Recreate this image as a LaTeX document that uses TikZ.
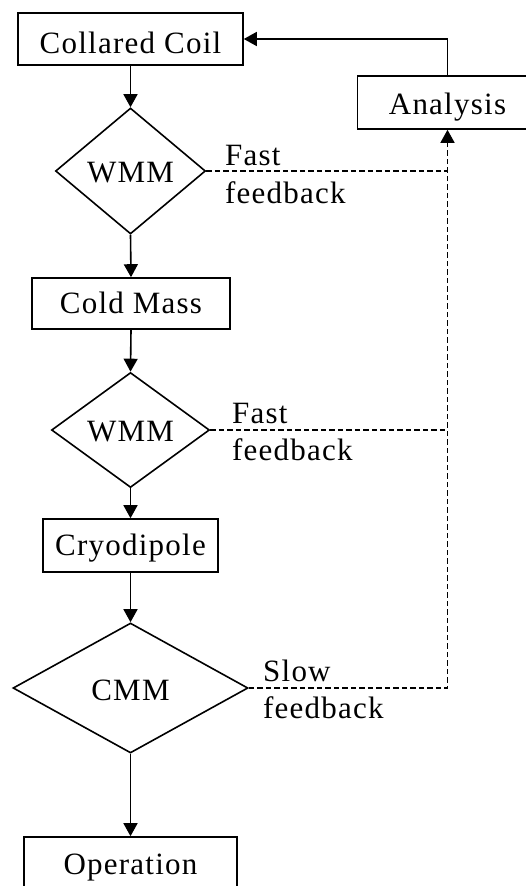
\documentclass[tikz,border=0pt]{standalone}
\usepackage{fontspec}
\setmainfont{Liberation Serif}[LetterSpace=4]
\usetikzlibrary{shapes.geometric,arrows.meta}

\tikzset{
  stagebox/.style={draw, line width=1.6pt, rectangle, inner sep=0pt,
    text height=22pt, text depth=0pt, align=center},
  testdiamond/.style={draw, line width=1.6pt, diamond, inner sep=0pt,
    text height=22pt, text depth=0pt},
  tip/.style={-{Triangle[length=13pt,width=14pt]}},
  flow/.style={line width=1.6pt, tip},
  feedback/.style={line width=1.5pt, dash pattern=on 5.5pt off 3pt},
  fbtext/.style={anchor=base west, inner sep=0pt}
}

\begin{document}
\begin{tikzpicture}[x=1pt, y=-1pt, font=\fontsize{31}{38}\selectfont]
  \clip (0,0) rectangle (526,886);
  \fill[white] (0,0) rectangle (526,886);

  % main chain of production stages and measurements
  \node[stagebox, minimum width=225pt, minimum height=52pt, text height=28pt] (coil) at (130.5,39) {Collared Coil};
  \node[testdiamond, minimum width=150pt, minimum height=126pt] (wmmA) at (130.5,171) {WMM};
  \node[stagebox, minimum width=198pt, minimum height=51pt, text height=19pt] (cold) at (131,303.5) {Cold Mass};
  \node[testdiamond, minimum width=158pt, minimum height=115pt] (wmmB) at (130.5,430) {WMM};
  \node[stagebox, minimum width=175pt, minimum height=53pt, text height=19pt] (cryo) at (130.5,545.5) {Cryodipole};
  \node[testdiamond, minimum width=235pt, minimum height=130pt, text height=24pt] (cmm) at (130.5,688) {CMM};
  \node[stagebox, minimum width=213pt, minimum height=52pt] (oper) at (130.5,863) {Operation};

  % analysis box on the feedback side
  \node[stagebox, minimum width=180pt, minimum height=53pt, text height=23pt] (ana) at (447.5,102.5) {Analysis};

  % downward flow
  \draw[flow] (coil.south) -- (wmmA.north);
  \draw[flow] (wmmA.south) -- (cold.north);
  \draw[flow] (cold.south) -- (wmmB.north);
  \draw[flow] (wmmB.south) -- (cryo.north);
  \draw[flow] (cryo.south) -- (cmm.north);
  \draw[flow] (cmm.south) -- (oper.north);

  % analysis result returns to the coil
  \draw[flow] (ana.north) |- (coil.east);

  % feedback paths into the analysis
  \draw[feedback] (wmmA.east) -- (wmmA.east -| ana.south);
  \draw[feedback] (wmmB.east) -- (wmmB.east -| ana.south);
  \draw[feedback, tip] (cmm.east) -| (ana.south);

  % feedback labels
  \node[fbtext] (fastA) at (225,165) {Fast};
  \node[fbtext] (fastAfb) at (225,203) {feedback};
  \node[fbtext] (fastB) at (232,423) {Fast};
  \node[fbtext] (fastBfb) at (232,460) {feedback};
  \node[fbtext] (slow) at (263,681) {Slow};
  \node[fbtext] (slowfb) at (263,718) {feedback};
\end{tikzpicture}
\end{document}
